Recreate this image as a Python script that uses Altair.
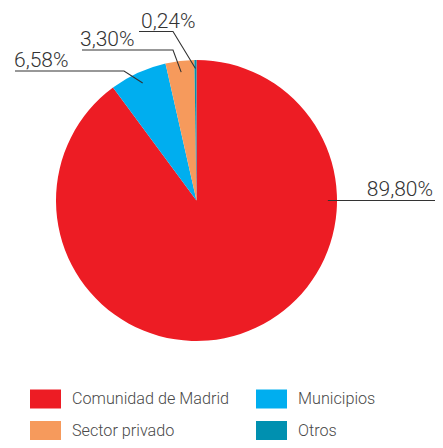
import altair as alt
import numpy as np
import pandas as pd

# ---- data ----
categories = ["Comunidad de Madrid", "Municipios", "Sector privado", "Otros"]
shares = [89.80, 6.58, 3.30, 0.24]
colors = ["#ED1C24", "#00AEEF", "#F69A5C", "#0090B0"]

# ---- layout (page pixel coordinates) ----
W, H = 427, 432
OX, OY = 8, 8
CX, CY, R = 196.5, 200.5, 140.5
FONT = "Roboto"
TXT = "#333333"

label_layout = {
    "Comunidad de Madrid": dict(line_end=435, text_x=433, align="right", angle=90, rfrac=0.935, gap=4.5),
    "Municipios": dict(line_y=71, start_x=15, elbow_x=124, text_x=14, align="left", rfrac=0.92, gap=4.5),
    "Sector privado": dict(line_y=50, start_x=82, elbow_x=173, text_x=80, align="left", rfrac=0.92, gap=4.5),
    "Otros": dict(line_y=31.5, start_x=139, elbow_x=173, text_x=141, align="left", rfrac=0.94, gap=3.5),
}

total = sum(shares)
cum = np.cumsum([0] + shares[:-1])
mid_deg = [(c + s / 2) / total * 360 for c, s in zip(cum, shares)]


def pt(angle_deg, r):
    a = np.deg2rad(angle_deg)
    return CX + r * np.sin(a), CY - r * np.cos(a)


def fmt(v):
    return f"{v:.2f}".replace(".", ",") + "%"


pie_df = pd.DataFrame({"cat": categories, "share": shares, "idx": range(len(categories))})

line_rows, text_rows = [], []
for cat, share, mid in zip(categories, shares, mid_deg):
    L = label_layout[cat]
    ang = L.get("angle", mid)
    ax, ay = pt(ang, L["rfrac"] * R)
    if cat == "Comunidad de Madrid":
        pts = [(ax, ay), (L["line_end"], ay)]
        ty = ay - L["gap"]
    else:
        pts = [(L["start_x"], L["line_y"]), (L["elbow_x"], L["line_y"]), (ax, ay)]
        ty = L["line_y"] - L["gap"]
    for k, (x, y) in enumerate(pts):
        line_rows.append({"cat": cat, "k": k, "x": x, "y": y})
    text_rows.append({"cat": cat, "label": fmt(share), "x": L["text_x"], "y": ty, "align": L["align"]})

lines_df = pd.DataFrame(line_rows)
text_df = pd.DataFrame(text_rows)

xs = alt.Scale(domain=[OX, OX + W], range=[0, W])
ys = alt.Scale(domain=[OY, OY + H], range=[0, H])

pie = alt.Chart(pie_df).mark_arc(radius=R).encode(
    theta=alt.Theta("share:Q", stack=True),
    order=alt.Order("idx:Q", sort="ascending"),
    color=alt.Color(
        "cat:N",
        scale=alt.Scale(domain=categories, range=colors),
        sort=categories,
        legend=alt.Legend(
            title=None,
            orient="none",
            direction="horizontal",
            legendX=30 - OX,
            legendY=383 - OY,
            columns=2,
            symbolType="M-1,-0.613L1,-0.613L1,0.613L-1,0.613Z",
            symbolSize=961,
            symbolStrokeWidth=0,
            symbolOpacity=1,
            labelFont=FONT,
            labelFontWeight=300,
            labelFontSize=16.2,
            labelColor="#4a4a4a",
            labelOffset=11,
            labelLimit=400,
            rowPadding=6,
            columnPadding=26,
            padding=0,
        ),
    ),
    x=alt.value(CX - OX),
    y=alt.value(CY - OY),
)

lines = alt.Chart(lines_df).mark_line(color="#333333", strokeWidth=1.1, clip=False).encode(
    x=alt.X("x:Q", scale=xs, axis=None),
    y=alt.Y("y:Q", scale=ys, axis=None),
    detail="cat:N",
    order=alt.Order("k:Q"),
)

text_left = alt.Chart(text_df).transform_filter(alt.datum.align == "left").mark_text(
    align="left", baseline="alphabetic", font=FONT, fontWeight=300, fontSize=21, color=TXT
).encode(
    x=alt.X("x:Q", scale=xs, axis=None),
    y=alt.Y("y:Q", scale=ys, axis=None),
    text="label:N",
)

text_right = alt.Chart(text_df).transform_filter(alt.datum.align == "right").mark_text(
    align="right", baseline="alphabetic", font=FONT, fontWeight=300, fontSize=21, color=TXT
).encode(
    x=alt.X("x:Q", scale=xs, axis=None),
    y=alt.Y("y:Q", scale=ys, axis=None),
    text="label:N",
)

chart = alt.layer(pie, lines, text_left, text_right).properties(
    width=W, height=H, autosize=alt.AutoSizeParams(type="none"), padding=0
).configure_view(stroke=None)

chart.save("out.html", embed_options={"renderer": "svg", "actions": False})
